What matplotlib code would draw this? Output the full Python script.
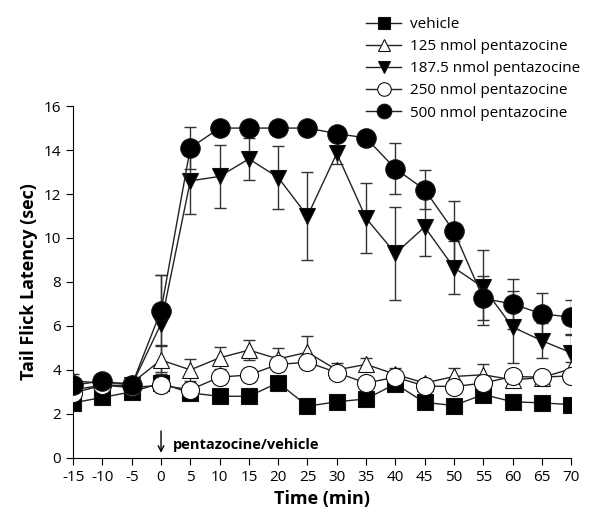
import matplotlib.pyplot as plt
import numpy as np

plt.rcParams['font.family'] = ['Open Sans', 'DejaVu Sans']
plt.rcParams['axes.unicode_minus'] = False

time = [-15, -10, -5, 0, 5, 10, 15, 20, 25, 30, 35, 40, 45, 50, 55, 60, 65, 70]

vehicle = [2.5, 2.75, 3.0, 3.4, 2.95, 2.8, 2.8, 3.42, 2.35, 2.55, 2.68, 3.36, 2.52, 2.38, 2.88, 2.55, 2.5, 2.42]
vehicle_err = [0.3, 0.2, 0.2, 0.4, 0.2, 0.2, 0.2, 0.2, 0.2, 0.2, 0.2, 0.3, 0.2, 0.2, 0.2, 0.2, 0.2, 0.2]

p125 = [3.5, 3.4, 3.4, 4.45, 4.0, 4.55, 4.9, 4.5, 4.8, 4.0, 4.25, 3.8, 3.4, 3.7, 3.78, 3.55, 3.65, 4.05]
p125_err = [0.3, 0.2, 0.2, 0.7, 0.5, 0.5, 0.45, 0.5, 0.75, 0.3, 0.3, 0.3, 0.2, 0.4, 0.5, 0.35, 0.3, 0.3]

p187 = [3.1, 3.3, 3.3, 6.1, 12.6, 12.8, 13.6, 12.75, 11.0, 13.85, 10.9, 9.3, 10.5, 8.65, 7.75, 5.95, 5.33, 4.78]
p187_err = [0.3, 0.2, 0.2, 2.2, 1.5, 1.45, 0.95, 1.45, 2.0, 0.5, 1.6, 2.1, 1.3, 1.2, 1.7, 1.65, 0.8, 0.85]

p250 = [2.95, 3.3, 3.2, 3.3, 3.1, 3.67, 3.77, 4.25, 4.35, 3.88, 3.4, 3.67, 3.27, 3.24, 3.4, 3.7, 3.67, 3.73]
p250_err = [0.3, 0.2, 0.2, 0.3, 0.3, 0.3, 0.3, 0.3, 0.3, 0.2, 0.2, 0.2, 0.2, 0.3, 0.3, 0.3, 0.3, 0.2]

p500 = [3.3, 3.5, 3.3, 6.7, 14.1, 15.0, 15.0, 15.0, 15.0, 14.75, 14.55, 13.15, 12.2, 10.3, 7.25, 7.0, 6.55, 6.4]
p500_err = [0.3, 0.2, 0.2, 1.6, 0.95, 0, 0, 0, 0, 0, 0, 1.15, 0.9, 1.4, 1.0, 1.15, 0.95, 0.8]

series = [
    ("vehicle", vehicle, vehicle_err, "s", "black", 11),
    ("125 nmol pentazocine", p125, p125_err, "^", "white", 11),
    ("187.5 nmol pentazocine", p187, p187_err, "v", "black", 12),
    ("250 nmol pentazocine", p250, p250_err, "o", "white", 13),
    ("500 nmol pentazocine", p500, p500_err, "o", "black", 14),
]

fig = plt.figure(figsize=(5.9, 5.15), dpi=100)
ax = fig.add_axes([0.124, 0.111, 0.844, 0.683])

handles = []
for label, y, err, marker, face, ms in series:
    ax.errorbar(time, y, yerr=err, fmt="none", ecolor="#333333",
                elinewidth=1, capsize=4, capthick=1, zorder=2)
    h, = ax.plot(time, y, marker=marker, color="#222222", lw=1,
                 markerfacecolor=face, markeredgecolor="#111111",
                 markeredgewidth=0.8, markersize=ms, label=label, zorder=3)
    handles.append(h)

ax.set_xlim(-15, 70)
ax.set_ylim(0, 16)
ax.set_xticks(time)
ax.set_yticks(np.arange(0, 17, 2))
ax.spines['top'].set_visible(False)
ax.spines['right'].set_visible(False)
ax.tick_params(direction="out", length=5, labelsize=11)

ax.set_xlabel("Time (min)", fontsize=13, fontweight="bold")
ax.set_ylabel("Tail Flick Latency (sec)", fontsize=13, fontweight="bold")

ax.annotate("", xy=(0, 0.1), xytext=(0, 1.35),
            arrowprops=dict(arrowstyle="->", lw=1, color="black"))
ax.text(2, 0.6, "pentazocine/vehicle", fontsize=10.5, fontweight="bold",
        va="center", ha="left")

fig.legend(handles=handles, loc="upper left", bbox_to_anchor=(0.605, 0.985),
           frameon=False, fontsize=11, handlelength=2.3, handletextpad=0.6,
           labelspacing=0.47, borderaxespad=0.2, markerscale=0.75)

fig.savefig("out.png", dpi=100)
